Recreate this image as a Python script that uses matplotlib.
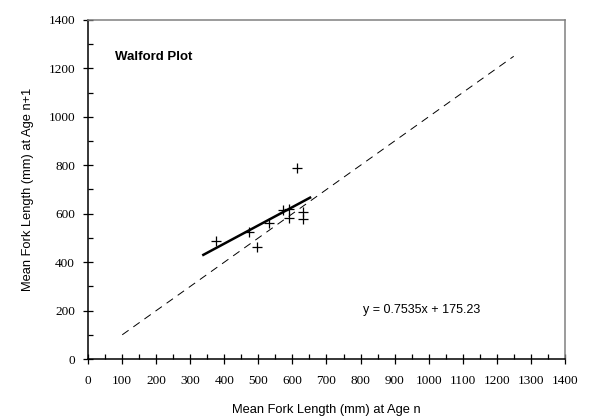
import numpy as np
import matplotlib.pyplot as plt
from matplotlib.ticker import MultipleLocator

# mean fork length at age n / age n+1 (mm)
len_n = [375, 472, 495, 530, 573, 591, 589, 614, 630, 630]
len_n1 = [489, 523, 463, 560, 615, 621, 581, 790, 608, 577]

slope, intercept = 0.7535, 175.23
fit_range = [335, 655]
one_to_one = [100, 1250]

fig = plt.figure(figsize=(5.92, 4.16), dpi=100)
ax = fig.add_axes([0.149, 0.137, 0.805, 0.815])

ax.plot(one_to_one, one_to_one, color='black', lw=0.7, dashes=(8, 6))
fx = np.array(fit_range)
ax.plot(fx, slope * fx + intercept, color='black', lw=1.8, solid_capstyle='butt')
ax.plot(len_n, len_n1, ls='none', marker='+', ms=6.5, mew=0.9, color='black')

ax.set_xlim(0, 1400)
ax.set_ylim(0, 1400)
ax.xaxis.set_major_locator(MultipleLocator(100))
ax.xaxis.set_minor_locator(MultipleLocator(50))
ax.yaxis.set_major_locator(MultipleLocator(200))
ax.yaxis.set_minor_locator(MultipleLocator(100))
ax.tick_params(which='major', direction='inout', length=7, width=0.9)
ax.tick_params(axis='x', which='major', pad=8)
ax.tick_params(axis='y', which='major', pad=6)
ax.tick_params(which='minor', direction='in', length=3.5, width=0.9)
ax.tick_params(top=False, right=False, which='both')
for lab in ax.get_xticklabels() + ax.get_yticklabels():
    lab.set_fontfamily('Liberation Serif')
    lab.set_fontsize(9.5)

for s in ['left', 'bottom']:
    ax.spines[s].set_linewidth(1.1)
    ax.spines[s].set_color('black')
for s in ['top', 'right']:
    ax.spines[s].set_linewidth(1.1)
    ax.spines[s].set_color('#808080')

ax.set_xlabel('Mean Fork Length (mm) at Age n', family='Liberation Sans', fontsize=9.3, labelpad=12)
ax.set_ylabel('Mean Fork Length (mm) at Age n+1', family='Liberation Sans', fontsize=9.3, labelpad=10)

ax.text(78, 1249, 'Walford Plot', family='Liberation Sans', fontsize=9.5,
        fontweight='bold', va='center', ha='left')
ax.text(808, 202, 'y = 0.7535x + 175.23', family='Liberation Sans', fontsize=9,
        va='center', ha='left')

fig.savefig('out.png', dpi=100)
